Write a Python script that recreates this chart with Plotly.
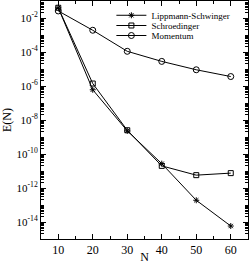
import plotly.graph_objects as go

N = [10, 20, 30, 40, 50, 60]
lippmann = [4.0e-2, 6.0e-7, 2.3e-9, 2.7e-11, 1.9e-13, 5.8e-15]
schroedinger = [4.0e-2, 1.4e-6, 2.5e-9, 2.0e-11, 5.7e-12, 7.5e-12]
momentum = [2.6e-2, 1.9e-3, 1.1e-4, 2.8e-5, 9.0e-6, 3.6e-6]

ytick_exps = [-2, -4, -6, -8, -10, -12, -14]
xtick_vals = [10, 20, 30, 40, 50, 60]

font = "Liberation Serif, Times New Roman, serif"

fig = go.Figure()
series = [
    ("Lippmann-Schwinger", lippmann, "asterisk-open", 5, "legend"),
    ("Schroedinger", schroedinger, "square-open", 5, "legend2"),
    ("Momentum", momentum, "circle-open", 6, "legend3"),
]
for name, vals, sym, size, lg in series:
    fig.add_trace(go.Scatter(
        x=N, y=vals, name=name, mode="lines+markers",
        line=dict(color="black", width=1),
        marker=dict(symbol=sym, size=size, color="black", line=dict(width=1, color="black")),
        legend=lg,
    ))

minor_vals = []
for e in range(-15, -1):
    for k in range(2, 10):
        minor_vals.append(k * 10.0 ** e)

axis_common = dict(showline=True, linecolor="black", linewidth=1, mirror="ticks",
                   ticks="inside", ticklen=5, tickcolor="black", showgrid=False,
                   zeroline=False, automargin=False)

fig.update_layout(
    width=250, height=264,
    margin=dict(l=41, r=2, t=1, b=25, autoexpand=False),
    plot_bgcolor="white", paper_bgcolor="white",
    font=dict(family=font, color="black", size=11),
    xaxis=dict(range=[5, 65], tickvals=xtick_vals, tickfont=dict(size=12),
               minor=dict(ticks="inside", ticklen=3, dtick=5, tick0=5, tickcolor="black"),
               title=dict(text="N", font=dict(size=12), standoff=0),
               **axis_common),
    yaxis=dict(type="log", range=[-15, -1],
               tickvals=[10.0 ** e for e in ytick_exps],
               ticktext=["10<sup>%d</sup>" % e for e in ytick_exps],
               tickfont=dict(size=11),
               minor=dict(ticks="inside", ticklen=3, tickvals=minor_vals, tickcolor="black"),
               title=dict(text="E(N)", font=dict(size=12), standoff=2),
               **axis_common),
    showlegend=True,
)
for lg, yy in [("legend", 0.94), ("legend2", 0.897), ("legend3", 0.855)]:
    fig.update_layout({lg: dict(x=0.34, y=yy, xanchor="left", yanchor="middle",
                                bgcolor="rgba(0,0,0,0)", font=dict(size=9, family=font),
                                itemwidth=30, tracegroupgap=0)})

fig.write_html("out.html", config={"displayModeBar": False},
               post_script="document.body.style.margin='0';")
